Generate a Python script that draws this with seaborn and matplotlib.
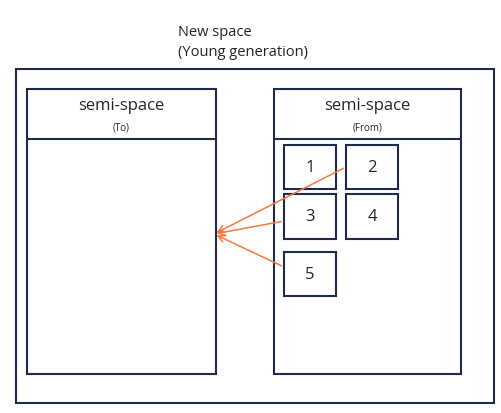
import matplotlib
matplotlib.use("Agg")
import matplotlib.pyplot as plt
import seaborn as sns
from matplotlib.patches import Rectangle

sns.set_theme(style="white")
plt.rcParams["font.family"] = ["Open Sans", "DejaVu Sans"]

# diagram elements in pixel coordinates (x, y, w, h)
outer_box = (16, 70, 478, 334)
semi_boxes = [(27, 90, 189, 285), (274, 90, 187, 285)]
semi_titles = ["semi-space", "semi-space"]
semi_subtitles = ["(To)", "(From)"]
header_height = 50
cells = [(284, 146, 52, 44), (346, 146, 52, 44), (284, 195, 52, 45),
         (346, 195, 52, 45), (284, 253, 52, 44)]
cell_labels = ["1", "2", "3", "4", "5"]
arrow_starts = [(346, 168), (284, 222), (284, 268)]
arrow_end = (214, 235)
title_lines = ["New space", "(Young generation)"]

line_col = "#1f2a4d"
arrow_col = "#f47b3b"

fig = plt.figure(figsize=(5.01, 4.14), dpi=100)
ax = fig.add_axes([0, 0, 1, 1])
ax.set_xlim(0, 501)
ax.set_ylim(414, 0)
ax.axis("off")

ax.text(178, 33, title_lines[0], fontsize=10.5, va="center", ha="left")
ax.text(178, 53, title_lines[1], fontsize=10.5, va="center", ha="left")

x, y, w, h = outer_box
ax.add_patch(Rectangle((x, y), w, h, fill=False, ec=line_col, lw=1.5))

for (x, y, w, h), t, s in zip(semi_boxes, semi_titles, semi_subtitles):
    ax.add_patch(Rectangle((x, y), w, h, fill=False, ec=line_col, lw=1.5))
    ax.plot([x, x + w], [y + header_height, y + header_height], color=line_col, lw=1.5)
    ax.text(x + w / 2, y + 16, t, fontsize=12, ha="center", va="center")
    ax.text(x + w / 2, y + 38, s, fontsize=7, ha="center", va="center")

for (x, y, w, h), lab in zip(cells, cell_labels):
    ax.add_patch(Rectangle((x, y), w, h, fill=False, ec=line_col, lw=1.5))
    ax.text(x + w / 2, y + h / 2, lab, fontsize=12, ha="center", va="center")

for sx, sy in arrow_starts:
    ax.annotate("", xy=arrow_end, xytext=(sx, sy),
                arrowprops=dict(arrowstyle="->", color=arrow_col, lw=1.1))

fig.savefig("out.png", dpi=100, facecolor="white")
